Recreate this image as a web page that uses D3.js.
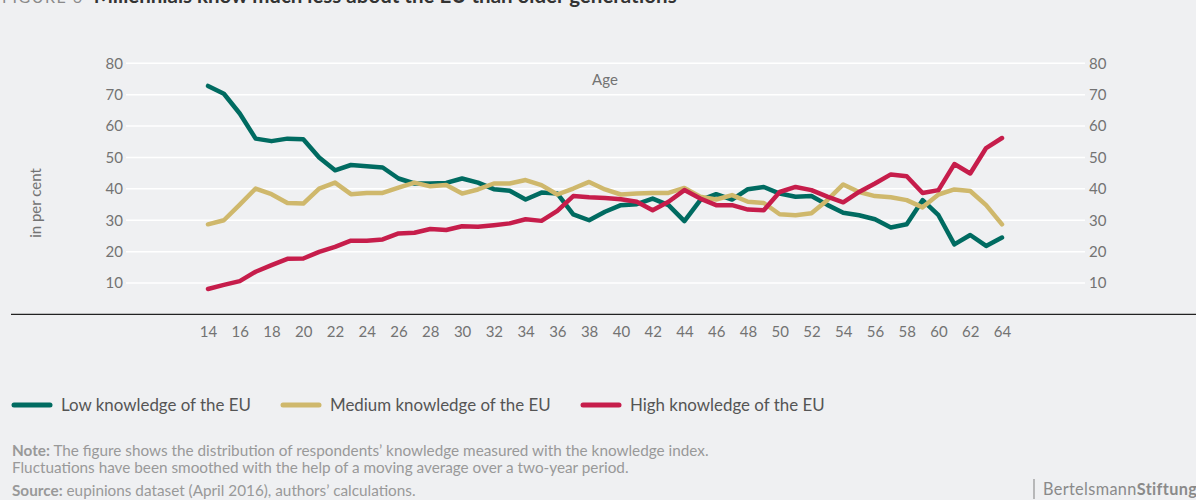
<!DOCTYPE html>
<html><head><meta charset="utf-8">
<script src="https://cdn.jsdelivr.net/npm/d3@7"></script>
<style>
html,body{margin:0;padding:0;background:#eff0f2;}
svg{display:block;font-family:Lato,"Open Sans",sans-serif;}
</style></head>
<body>
<svg id="chart" width="1196" height="500"></svg>
<script>
const ages = d3.range(14, 65);
const lowKnowledge = [72.8,70.3,64.0,56.0,55.2,56.0,55.8,50.0,45.9,47.6,47.2,46.8,43.3,41.7,41.7,41.9,43.3,42.0,39.9,39.4,36.6,38.8,38.5,31.9,30.0,32.7,34.8,35.1,36.9,34.8,29.7,36.4,38.3,36.6,39.9,40.6,38.5,37.5,37.7,34.9,32.4,31.6,30.3,27.7,28.7,36.4,31.6,22.3,25.3,21.8,24.5];
const mediumKnowledge = [28.7,30.0,35.0,40.1,38.3,35.5,35.3,40.1,42.0,38.3,38.7,38.7,40.4,42.0,40.8,41.2,38.5,39.8,41.7,41.7,42.8,41.2,38.2,40.1,42.2,39.8,38.2,38.5,38.7,38.7,40.3,37.5,36.6,38.0,35.9,35.5,31.9,31.6,32.2,36.4,41.4,39.0,37.7,37.3,36.4,34.1,38.2,39.8,39.3,34.8,28.7];
const highKnowledge = [8.1,9.4,10.6,13.6,15.7,17.7,17.8,19.9,21.5,23.5,23.5,23.9,25.8,26.0,27.2,26.9,28.1,27.9,28.4,29.0,30.3,29.8,33.0,37.7,37.3,37.1,36.7,35.9,33.2,35.9,39.6,36.9,34.8,34.8,33.4,33.2,39.0,40.6,39.6,37.5,35.7,39.0,41.7,44.6,44.0,38.7,39.6,47.9,44.9,53.0,56.2];
const yTicks = [10,20,30,40,50,60,70,80];
const xTicks = d3.range(14, 65, 2);
const seriesNames = ["Low knowledge of the EU","Medium knowledge of the EU","High knowledge of the EU"];
const seriesColors = ["#006b61","#cfb86c","#c61d4b"];

const svg = d3.select("#chart");
const x = d3.scaleLinear().domain([14,64]).range([208,1002]);
const y = d3.scaleLinear().domain([0,80]).range([314.4,63.3]);
const gray = "#737373";

// title (partially cropped at the top, as in the reference)
const t = svg.append("text").attr("x",2).attr("y",3).attr("font-size",20.5).attr("fill","#333");
t.append("tspan").attr("fill","#8a8a8a").attr("letter-spacing",1.5).attr("font-size",16).text("FIGURE 6");
t.append("tspan").attr("dx",10).attr("font-weight","bold").text("Millennials know much less about the EU than older generations");

// gridlines
svg.append("g").selectAll("line").data(yTicks).join("line")
  .attr("x1",126).attr("x2",1085).attr("y1",d=>y(d)).attr("y2",d=>y(d))
  .attr("stroke","#fff").attr("stroke-width",1.5);

// left / right axes
const leftAxis = d3.axisLeft(y).tickValues(yTicks).tickSize(0).tickPadding(0);
svg.append("g").attr("transform","translate(123,0)").call(leftAxis)
  .call(g=>g.select(".domain").remove())
  .call(g=>g.selectAll("text").attr("font-size",15).attr("fill",gray).attr("font-family","Lato"));
const rightAxis = d3.axisRight(y).tickValues(yTicks).tickSize(0).tickPadding(0);
svg.append("g").attr("transform","translate(1089,0)").call(rightAxis)
  .call(g=>g.select(".domain").remove())
  .call(g=>g.selectAll("text").attr("font-size",15).attr("fill",gray).attr("font-family","Lato"));

// bottom axis
const bottomAxis = d3.axisBottom(x).tickValues(xTicks).tickSize(0).tickPadding(0).tickFormat(d3.format("d"));
svg.append("g").attr("transform","translate(0,326)").call(bottomAxis)
  .call(g=>g.select(".domain").remove())
  .call(g=>g.selectAll("text").attr("font-size",15).attr("fill",gray).attr("font-family","Lato"));
svg.append("line").attr("x1",11).attr("x2",1196).attr("y1",y(0)).attr("y2",y(0)).attr("stroke","#222").attr("stroke-width",1.3);

// labels
svg.append("text").attr("x",605).attr("y",85).attr("text-anchor","middle").attr("font-size",15).attr("fill",gray).text("Age");
svg.append("text").attr("transform","translate(41,203) rotate(-90)").attr("text-anchor","middle").attr("font-size",15).attr("fill",gray).text("in per cent");

// lines
const line = d3.line().x((d,i)=>x(ages[i])).y(d=>y(d));
[lowKnowledge, mediumKnowledge, highKnowledge].forEach((s,i)=>{
  svg.append("path").datum(s).attr("d",line).attr("fill","none")
    .attr("stroke",seriesColors[i]).attr("stroke-width",4.5)
    .attr("stroke-linejoin","round").attr("stroke-linecap","round");
});

// legend
const legendX = [14, 283, 583];
seriesNames.forEach((n,i)=>{
  svg.append("line").attr("x1",legendX[i]).attr("x2",legendX[i]+36).attr("y1",405).attr("y2",405)
    .attr("stroke",seriesColors[i]).attr("stroke-width",5).attr("stroke-linecap","round");
  svg.append("text").attr("x",legendX[i]+47).attr("y",411).attr("font-size",16.9).attr("fill","#555").text(n);
});

// notes
const noteColor = "#999";
const noteSize = 15.3;
const n1 = svg.append("text").attr("x",12).attr("y",456).attr("font-size",noteSize).attr("fill",noteColor);
n1.append("tspan").attr("font-weight","bold").text("Note:");
n1.append("tspan").text(" The figure shows the distribution of respondents’ knowledge measured with the knowledge index.");
svg.append("text").attr("x",12).attr("y",473).attr("font-size",noteSize).attr("fill",noteColor)
  .text("Fluctuations have been smoothed with the help of a moving average over a two-year period.");
const n3 = svg.append("text").attr("x",12).attr("y",496).attr("font-size",noteSize).attr("fill",noteColor);
n3.append("tspan").attr("font-weight","bold").text("Source:");
n3.append("tspan").text(" eupinions dataset (April 2016), authors’ calculations.");

// logo
svg.append("line").attr("x1",1034).attr("x2",1034).attr("y1",479).attr("y2",499).attr("stroke","#999").attr("stroke-width",1.3);
const logo = svg.append("text").attr("x",1043).attr("y",495).attr("font-size",16.3).attr("fill","#8a8a8a").attr("letter-spacing",0.35);
logo.append("tspan").text("Bertelsmann");
logo.append("tspan").attr("font-weight","bold").text("Stiftung");
</script>
</body></html>
